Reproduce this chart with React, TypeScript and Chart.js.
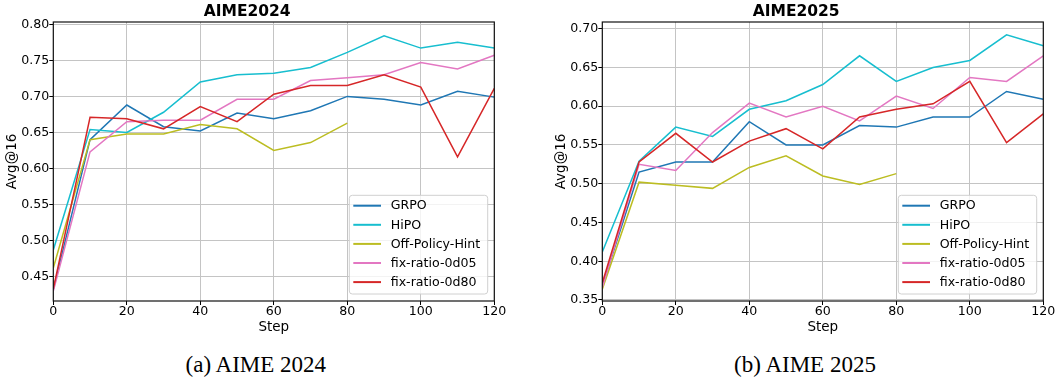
import React, { useEffect, useRef } from "react";
import { Chart, registerables } from "chart.js";

Chart.register(...registerables);

const steps = [0, 10, 20, 30, 40, 50, 60, 70, 80, 90, 100, 110, 120];
const hintSteps = [0, 10, 20, 30, 40, 50, 60, 70, 80];
const seriesNames = ["GRPO", "HiPO", "Off-Policy-Hint", "fix-ratio-0d05", "fix-ratio-0d80"];
const seriesColors = ["#1f77b4", "#17becf", "#bcbd22", "#e377c2", "#d62728"];
const xTicks = [0, 20, 40, 60, 80, 100, 120];

// AIME 2024
const grpo2024 = [0.432, 0.640, 0.688, 0.658, 0.652, 0.677, 0.669, 0.680, 0.700, 0.696, 0.688, 0.707, 0.699];
const hipo2024 = [0.487, 0.654, 0.650, 0.678, 0.720, 0.730, 0.732, 0.740, 0.761, 0.784, 0.767, 0.775, 0.767];
const hint2024 = [0.462, 0.640, 0.648, 0.648, 0.661, 0.655, 0.625, 0.636, 0.663];
const fix05_2024 = [0.430, 0.623, 0.665, 0.667, 0.667, 0.696, 0.696, 0.722, 0.726, 0.730, 0.747, 0.738, 0.757];
const fix80_2024 = [0.433, 0.671, 0.669, 0.655, 0.686, 0.665, 0.703, 0.715, 0.715, 0.730, 0.713, 0.616, 0.711];

// AIME 2025
const grpo2025 = [0.368, 0.515, 0.528, 0.528, 0.580, 0.550, 0.550, 0.575, 0.573, 0.586, 0.586, 0.619, 0.609];
const hipo2025 = [0.412, 0.529, 0.573, 0.561, 0.596, 0.607, 0.628, 0.665, 0.632, 0.650, 0.659, 0.692, 0.678];
const hint2025 = [0.364, 0.502, 0.498, 0.494, 0.521, 0.536, 0.510, 0.499, 0.513];
const fix05_2025 = [0.366, 0.525, 0.517, 0.566, 0.604, 0.586, 0.600, 0.581, 0.613, 0.597, 0.637, 0.632, 0.665];
const fix80_2025 = [0.372, 0.528, 0.565, 0.528, 0.555, 0.571, 0.545, 0.586, 0.596, 0.603, 0.632, 0.553, 0.590];

const FONT = "'DejaVu Sans', sans-serif";

const framePlugin = {
  id: "frameAndLegend",
  afterDraw(chart: any) {
    const { ctx, chartArea } = chart;
    const { left, top, right, bottom } = chartArea;
    ctx.save();
    // legend
    const bw = 138.4;
    const bh = 98.7;
    const bx = right - 6.6 - bw;
    const by = bottom - 7 - bh;
    ctx.beginPath();
    const r = 3;
    ctx.moveTo(bx + r, by);
    ctx.lineTo(bx + bw - r, by);
    ctx.quadraticCurveTo(bx + bw, by, bx + bw, by + r);
    ctx.lineTo(bx + bw, by + bh - r);
    ctx.quadraticCurveTo(bx + bw, by + bh, bx + bw - r, by + bh);
    ctx.lineTo(bx + r, by + bh);
    ctx.quadraticCurveTo(bx, by + bh, bx, by + bh - r);
    ctx.lineTo(bx, by + r);
    ctx.quadraticCurveTo(bx, by, bx + r, by);
    ctx.closePath();
    ctx.fillStyle = "rgba(255,255,255,0.8)";
    ctx.fill();
    ctx.strokeStyle = "#d0d0d0";
    ctx.lineWidth = 1;
    ctx.stroke();
    const datasets = chart.data.datasets;
    ctx.font = `12.6px ${FONT}`;
    ctx.textBaseline = "middle";
    ctx.textAlign = "left";
    datasets.forEach((ds: any, i: number) => {
      const yy = by + 10.4 + i * 19.1;
      ctx.beginPath();
      ctx.moveTo(bx + 4, yy);
      ctx.lineTo(bx + 31.7, yy);
      ctx.strokeStyle = ds.borderColor;
      ctx.lineWidth = 2;
      ctx.stroke();
      ctx.fillStyle = "#000";
      ctx.fillText(ds.label, bx + 41.4, yy + 0.5);
    });
    // frame
    ctx.strokeStyle = "#111";
    ctx.lineWidth = 1.2;
    ctx.strokeRect(left, top, right - left, bottom - top);
    ctx.restore();
  },
};

type PanelProps = {
  title: string;
  series: number[][];
  yMin: number;
  yMax: number;
  x: number;
};

function Panel({ title, series, yMin, yMax, x }: PanelProps) {
  const ref = useRef<HTMLCanvasElement | null>(null);
  useEffect(() => {
    if (!ref.current) return;
    const datasets = series.map((vals, i) => {
      const xs = vals.length === hintSteps.length ? hintSteps : steps;
      return {
        label: seriesNames[i],
        data: vals.map((v, j) => ({ x: xs[j], y: v })),
        borderColor: seriesColors[i],
        backgroundColor: seriesColors[i],
        borderWidth: 1.5,
        pointRadius: 0,
        tension: 0,
        fill: false,
        order: series.length - i,
      };
    });
    const chart = new Chart(ref.current, {
      type: "line",
      data: { datasets },
      options: {
        responsive: false,
        animation: false,
        devicePixelRatio: 1,
        layout: { padding: { left: 0, right: 15.7, top: 0, bottom: 0 } },
        plugins: {
          legend: { display: false },
          tooltip: { enabled: false },
          title: {
            display: true,
            text: title,
            color: "#000",
            font: { family: FONT, size: 15.5, weight: "bold", lineHeight: 1.2 },
            padding: { top: 3, bottom: 0.4 },
          },
        },
        scales: {
          x: {
            type: "linear",
            min: 0,
            max: 120,
            afterFit: (s: any) => {
              s.height = 39;
            },
            afterBuildTicks: (s: any) => {
              s.ticks = xTicks.map((v) => ({ value: v }));
            },
            ticks: {
              color: "#000",
              font: { family: FONT, size: 12.6, lineHeight: 1 },
              padding: 0,
              maxRotation: 0,
              autoSkip: false,
              callback: (v: any) => String(v),
            },
            grid: { color: "#c4c4c4", lineWidth: 1, tickLength: 4, tickColor: "#000", drawTicks: true },
            border: { display: false },
            title: {
              display: true,
              text: "Step",
              color: "#000",
              font: { family: FONT, size: 13.5, lineHeight: 1.2 },
              padding: { top: 0, bottom: 4.9 },
            },
          },
          y: {
            type: "linear",
            min: yMin,
            max: yMax,
            afterFit: (s: any) => {
              s.width = 53.3;
            },
            ticks: {
              stepSize: 0.05,
              includeBounds: false,
              color: "#000",
              font: { family: FONT, size: 12.6 },
              padding: 0,
              callback: (v: any) => Number(v).toFixed(2),
            },
            grid: { color: "#c4c4c4", lineWidth: 1, tickLength: 4, tickColor: "#000", drawTicks: true },
            border: { display: false },
            title: {
              display: true,
              text: "Avg@16",
              color: "#000",
              font: { family: FONT, size: 13.5, lineHeight: 1.2 },
              padding: { top: 4, bottom: 0 },
            },
          },
        },
      } as any,
      plugins: [framePlugin],
    });
    return () => chart.destroy();
  }, []);
  return (
    <canvas
      ref={ref}
      width={510}
      height={340}
      style={{ position: "absolute", left: x, top: 0, width: 510, height: 340 }}
    />
  );
}

const captionStyle: React.CSSProperties = {
  position: "absolute",
  top: 352.7,
  width: 400,
  textAlign: "center",
  fontFamily: "'Liberation Serif', 'Times New Roman', serif",
  fontSize: 23,
  lineHeight: 1,
  color: "#000",
  whiteSpace: "nowrap",
};

export default function App() {
  return (
    <div
      style={{
        position: "fixed",
        left: 0,
        top: 0,
        width: 1056,
        height: 379,
        background: "#fff",
        overflow: "hidden",
      }}
    >
      <Panel
        title="AIME2024"
        series={[grpo2024, hipo2024, hint2024, fix05_2024, fix80_2024]}
        yMin={0.4162}
        yMax={0.8032}
        x={0}
      />
      <Panel
        title="AIME2025"
        series={[grpo2025, hipo2025, hint2025, fix05_2025, fix80_2025]}
        yMin={0.3487}
        yMax={0.7086}
        x={549.4}
      />
      <div style={{ ...captionStyle, left: 255.8 - 200 }}>(a) AIME 2024</div>
      <div style={{ ...captionStyle, left: 805 - 200 }}>(b) AIME 2025</div>
    </div>
  );
}
